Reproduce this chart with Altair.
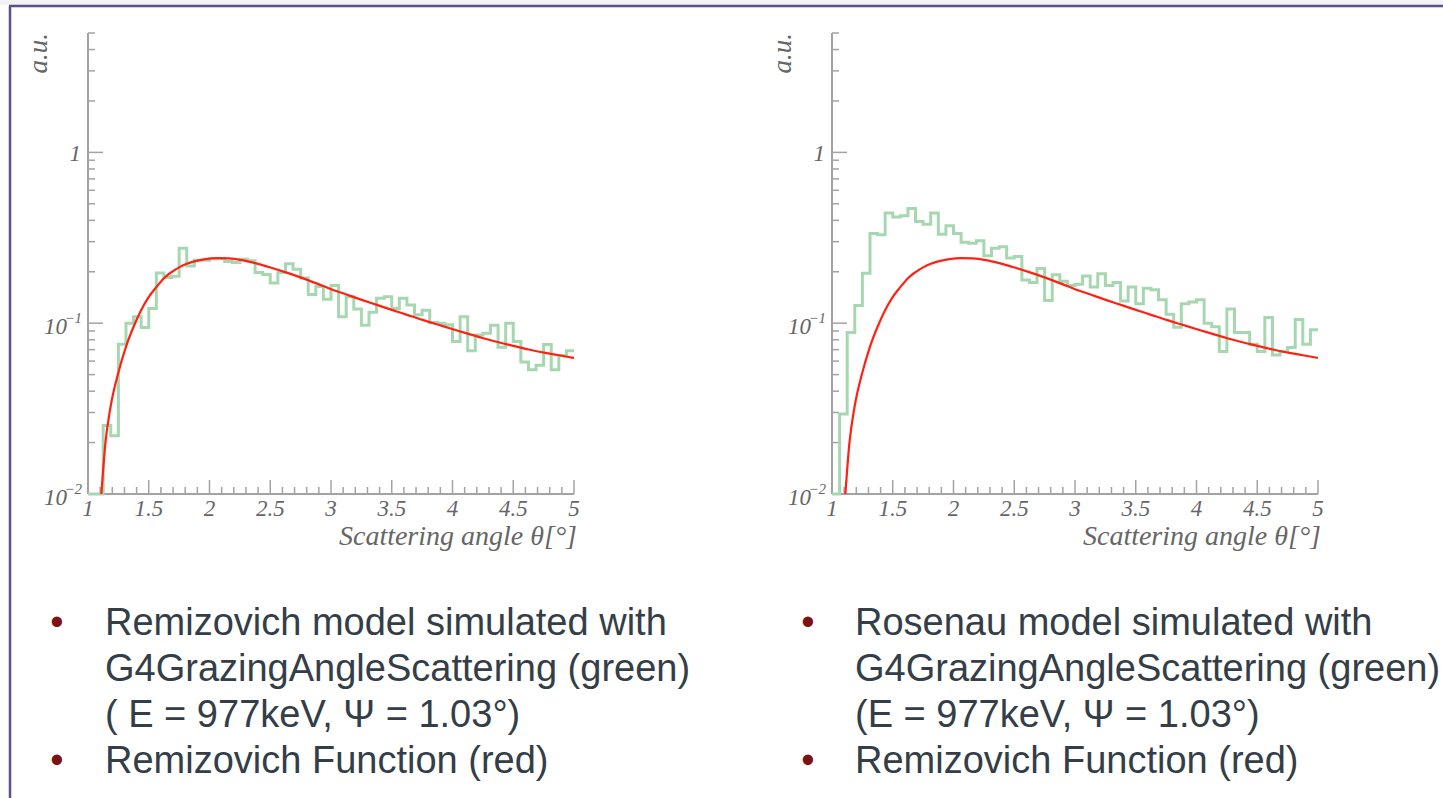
import altair as alt
import numpy as np
import pandas as pd

# ---------------------------------------------------------------- data
# Simulated scattering-angle distributions: 64 equal bins from 1 to 5 degrees (a.u.)
theta_min = 1.0
theta_max = 5.0
n_bins = 64

remizovich_hist = [
    0, 0, 0.0252, 0.0219, 0.0753, 0.100, 0.109, 0.0943, 0.122, 0.197,
    0.185, 0.188, 0.275, 0.216, 0.234, 0.234, 0.238, 0.239, 0.230, 0.227,
    0.237, 0.232, 0.198, 0.193, 0.172, 0.198, 0.223, 0.207, 0.184, 0.147,
    0.164, 0.138, 0.166, 0.109, 0.143, 0.121, 0.0973, 0.116, 0.140, 0.143,
    0.122, 0.140, 0.128, 0.112, 0.119, 0.101, 0.100, 0.0978, 0.0781, 0.109,
    0.0689, 0.0854, 0.0874, 0.0973, 0.0724, 0.100, 0.0781, 0.0593, 0.0533, 0.0567,
    0.0750, 0.0533, 0.0646, 0.0689,
]

rosenau_hist = [
    0, 0.0294, 0.0882, 0.127, 0.196, 0.335, 0.329, 0.441, 0.418, 0.426,
    0.470, 0.394, 0.380, 0.441, 0.332, 0.372, 0.335, 0.298, 0.294, 0.304,
    0.248, 0.275, 0.280, 0.241, 0.246, 0.179, 0.173, 0.209, 0.136, 0.192,
    0.176, 0.166, 0.169, 0.189, 0.163, 0.195, 0.166, 0.173, 0.135, 0.163,
    0.130, 0.160, 0.157, 0.137, 0.113, 0.0947, 0.130, 0.133, 0.137, 0.100,
    0.0952, 0.0682, 0.121, 0.0882, 0.0882, 0.0753, 0.0682, 0.108, 0.0652, 0.0682,
    0.0720, 0.105, 0.0753, 0.0914,
]

# Remizovich function sampled along the angle
func_theta = [
    1.110, 1.143, 1.186, 1.252, 1.313, 1.376, 1.436, 1.499, 1.562, 1.625,
    1.691, 1.754, 1.814, 1.883, 1.965, 2.061, 2.157, 2.266, 2.376, 2.502,
    2.623, 2.760, 2.897, 3.001, 3.127, 3.253, 3.377, 3.500, 3.626, 3.752,
    3.878, 4.004, 4.131, 4.254, 4.377, 4.501, 4.627, 4.753, 4.876, 5.000,
]
func_value = [
    0.0100, 0.0198, 0.0325, 0.0521, 0.0730, 0.0956, 0.1186, 0.1420, 0.1625, 0.1835,
    0.1999, 0.2129, 0.2227, 0.2308, 0.2371, 0.2403, 0.2393, 0.2339, 0.2247, 0.2119,
    0.1990, 0.1843, 0.1693, 0.1582, 0.1472, 0.1370, 0.1280, 0.1197, 0.1119, 0.1046,
    0.0982, 0.0922, 0.0866, 0.0817, 0.0774, 0.0737, 0.0701, 0.0673, 0.0649, 0.0626,
]

x_tick_values = [1, 1.5, 2, 2.5, 3, 3.5, 4, 4.5, 5]
x_tick_labels = ["1", "1.5", "2", "2.5", "3", "3.5", "4", "4.5", "5"]
y_decades = [0.01, 0.1]
y_decade_exponents = ["\u22122", "\u22121"]

x_title = "Scattering angle  \u03b8[\u00b0]"
y_title = "a.u."

left_lines = [
    ("Remizovich model simulated with", True),
    ("G4GrazingAngleScattering (green)", False),
    ("( E = 977keV, \u03a8 = 1.03\u00b0)", False),
    ("Remizovich Function (red)", True),
]
right_lines = [
    ("Rosenau model simulated with", True),
    ("G4GrazingAngleScattering (green)", False),
    ("(E = 977keV, \u03a8 = 1.03\u00b0)", False),
    ("Remizovich Function (red)", True),
]

# ---------------------------------------------------------------- style
W, H = 1443, 798
Y_MIN, Y_MAX = 0.01, 5.0
GREEN = "#a6d7b0"
RED = "#ff2212"
AXIS_GRAY = "#a3a3a3"
LABEL_GRAY = "#666666"
TEXT_COLOR = "#333e48"
BULLET_COLOR = "#7d1214"
FRAME_PURPLE = "#5f4d8c"
SERIF = "Liberation Serif"
SANS = "Liberation Sans"

Y_SCALE = alt.Scale(type="log", domain=[Y_MIN, Y_MAX], range=[494, 33], nice=False)


def x_scale(rng):
    return alt.Scale(domain=[theta_min, theta_max], range=rng, nice=False, zero=False)


def one_row():
    return pd.DataFrame({"k": [0]})


def panel_layers(rng, counts, title_px):
    xs = x_scale(rng)
    layers = []

    # axis lines
    layers.append(
        alt.Chart(one_row()).mark_rule(color=AXIS_GRAY, strokeWidth=2).encode(
            x=alt.XDatum(theta_min, scale=xs, axis=None),
            x2=alt.X2Datum(theta_max),
            y=alt.YDatum(Y_MIN, scale=Y_SCALE, axis=None),
        )
    )
    layers.append(
        alt.Chart(one_row()).mark_rule(color=AXIS_GRAY, strokeWidth=2).encode(
            x=alt.XDatum(theta_min, scale=xs, axis=None),
            y=alt.YDatum(Y_MIN, scale=Y_SCALE, axis=None),
            y2=alt.Y2Datum(Y_MAX),
        )
    )

    # x ticks pointing into the frame
    x_minor = [round(1 + 0.1 * i, 1) for i in range(41) if i % 5 != 0]
    for vals, length in ((x_tick_values, -14), (x_minor, -7)):
        layers.append(
            alt.Chart(pd.DataFrame({"t": vals})).mark_rule(
                color=AXIS_GRAY, strokeWidth=1.5, y2Offset=length
            ).encode(
                x=alt.X("t:Q", scale=xs, axis=None),
                y=alt.YDatum(Y_MIN, scale=Y_SCALE, axis=None),
                y2=alt.Y2Datum(Y_MIN),
            )
        )

    # y ticks pointing into the frame
    y_major = [0.01, 0.1, 1.0]
    y_minor = [m * d for d in (0.01, 0.1, 1.0) for m in range(2, 10) if m * d <= Y_MAX + 1e-9]
    for vals, length in ((y_major, 15), (y_minor, 7)):
        layers.append(
            alt.Chart(pd.DataFrame({"t": vals})).mark_rule(
                color=AXIS_GRAY, strokeWidth=1.5, x2Offset=length
            ).encode(
                x=alt.XDatum(theta_min, scale=xs, axis=None),
                x2=alt.X2Datum(theta_min),
                y=alt.Y("t:Q", scale=Y_SCALE, axis=None),
            )
        )

    # x tick labels
    layers.append(
        alt.Chart(pd.DataFrame({"t": x_tick_values, "lab": x_tick_labels})).mark_text(
            font=SERIF, fontStyle="italic", fontSize=23, color=LABEL_GRAY,
            align="center", baseline="middle", dy=15,
        ).encode(
            x=alt.X("t:Q", scale=xs, axis=None),
            y=alt.YDatum(Y_MIN, scale=Y_SCALE, axis=None),
            text="lab:N",
        )
    )

    # y tick labels: 10 with superscript exponent, and the plain 1
    layers.append(
        alt.Chart(pd.DataFrame({"t": y_decades, "lab": ["10"] * len(y_decades)})).mark_text(
            font=SERIF, fontStyle="italic", fontSize=23, color=LABEL_GRAY,
            align="right", baseline="middle", dx=-21, dy=4,
        ).encode(
            x=alt.XDatum(theta_min, scale=xs, axis=None),
            y=alt.Y("t:Q", scale=Y_SCALE, axis=None),
            text="lab:N",
        )
    )
    layers.append(
        alt.Chart(pd.DataFrame({"t": y_decades, "lab": y_decade_exponents})).mark_text(
            font=SERIF, fontStyle="italic", fontSize=15, color=LABEL_GRAY,
            align="right", baseline="middle", dx=-6, dy=-5,
        ).encode(
            x=alt.XDatum(theta_min, scale=xs, axis=None),
            y=alt.Y("t:Q", scale=Y_SCALE, axis=None),
            text="lab:N",
        )
    )
    layers.append(
        alt.Chart(pd.DataFrame({"t": [1.0], "lab": ["1"]})).mark_text(
            font=SERIF, fontStyle="italic", fontSize=23, color=LABEL_GRAY,
            align="right", baseline="middle", dx=-7, dy=2,
        ).encode(
            x=alt.XDatum(theta_min, scale=xs, axis=None),
            y=alt.Y("t:Q", scale=Y_SCALE, axis=None),
            text="lab:N",
        )
    )

    # axis titles
    layers.append(
        alt.Chart(one_row()).mark_text(
            text=x_title, font=SERIF, fontStyle="italic", fontSize=28, color=LABEL_GRAY,
            align="right", baseline="alphabetic", dx=3, dy=51,
        ).encode(
            x=alt.XDatum(theta_max, scale=xs, axis=None),
            y=alt.YDatum(Y_MIN, scale=Y_SCALE, axis=None),
        )
    )
    layers.append(
        alt.Chart(one_row()).mark_text(
            text=y_title, font=SERIF, fontStyle="italic", fontSize=27, color=LABEL_GRAY,
            align="right", baseline="alphabetic", angle=270,
        ).encode(x=alt.value(title_px), y=alt.value(33))
    )

    # histogram drawn as a step outline
    edges = theta_min + np.arange(n_bins + 1) * (theta_max - theta_min) / n_bins
    vals = np.maximum(np.array(list(counts) + [counts[-1]], dtype=float), Y_MIN)
    hist_df = pd.DataFrame({"theta": edges, "value": vals})
    layers.append(
        alt.Chart(hist_df).mark_line(
            interpolate="step-after", color=GREEN, strokeWidth=3, strokeJoin="miter"
        ).encode(
            x=alt.X("theta:Q", scale=xs, axis=None),
            y=alt.Y("value:Q", scale=Y_SCALE, axis=None),
        )
    )

    # Remizovich function
    func_df = pd.DataFrame({"theta": func_theta, "value": func_value})
    layers.append(
        alt.Chart(func_df).mark_line(
            interpolate="monotone", color=RED, strokeWidth=2.2
        ).encode(
            x=alt.X("theta:Q", scale=xs, axis=None),
            y=alt.Y("value:Q", scale=Y_SCALE, axis=None),
        )
    )
    return layers


def text_layers(lines, text_x, bullet_x):
    layers = []
    for i, (line, bullet) in enumerate(lines):
        base = 635 + 46 * i
        layers.append(
            alt.Chart(one_row()).mark_text(
                text=line, font=SANS, fontSize=38, color=TEXT_COLOR,
                align="left", baseline="alphabetic",
            ).encode(x=alt.value(text_x), y=alt.value(base))
        )
        if bullet:
            layers.append(
                alt.Chart(one_row()).mark_text(
                    text="\u2022", font=SANS, fontSize=38, color=BULLET_COLOR,
                    align="center", baseline="alphabetic",
                ).encode(x=alt.value(bullet_x), y=alt.value(base))
            )
    return layers


# slide frame
frame = [
    alt.Chart(one_row()).mark_rect(color="#f3f3f3").encode(
        x=alt.value(0), x2=alt.value(W), y=alt.value(0), y2=alt.value(5)
    ),
    alt.Chart(one_row()).mark_rule(color=FRAME_PURPLE, strokeWidth=2.5).encode(
        x=alt.value(9), x2=alt.value(W), y=alt.value(6)
    ),
    alt.Chart(one_row()).mark_rule(color=FRAME_PURPLE, strokeWidth=2.5).encode(
        x=alt.value(10), y=alt.value(6), y2=alt.value(H)
    ),
]

all_layers = (
    frame
    + panel_layers([88, 574], remizovich_hist, 47)
    + panel_layers([832, 1318], rosenau_hist, 791)
    + text_layers(left_lines, 105, 57)
    + text_layers(right_lines, 855, 808)
)

chart = (
    alt.layer(*all_layers)
    .resolve_scale(x="independent")
    .properties(
        width=W,
        height=H,
        padding=0,
        background="white",
        autosize=alt.AutoSizeParams(type="none"),
    )
    .configure_view(strokeWidth=0)
)

chart.save("out.html", embed_options={"renderer": "svg", "actions": False})
